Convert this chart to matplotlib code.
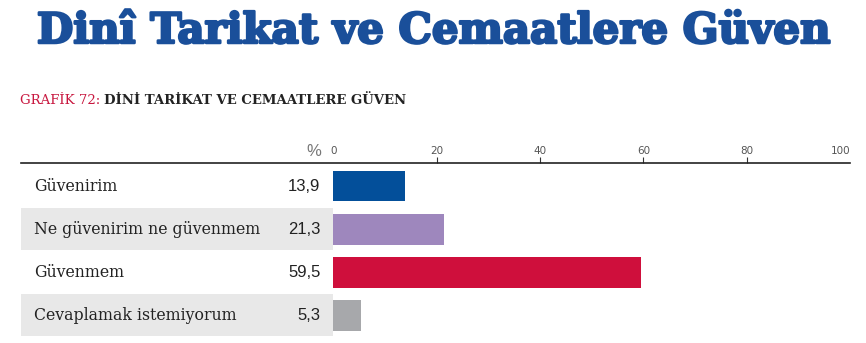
import matplotlib
matplotlib.use("Agg")
import matplotlib.pyplot as plt
import matplotlib.patheffects as pe

# data
categories = ["Güvenirim", "Ne güvenirim ne güvenmem", "Güvenmem", "Cevaplamak istemiyorum"]
values = [13.9, 21.3, 59.5, 5.3]
value_labels = ["13,9", "21,3", "59,5", "5,3"]
colors = ["#034f9a", "#9e87bd", "#cf0f3c", "#a7a8ab"]
ticks = [0, 20, 40, 60, 80, 100]

W, H = 866, 343
fig = plt.figure(figsize=(W / 100, H / 100), dpi=100)

# axes: px 21..850 horizontally, 163..343 vertically
ax = fig.add_axes([21 / W, 0, (850 - 21) / W, (343 - 163) / H])
ax.set_xlim(-60.5, 100)
ax.set_ylim(3.65, -0.535)

rows = list(range(len(categories)))

# grey bands behind alternate rows
for i in rows:
    if i % 2 == 1:
        ax.barh(i, 60.5, left=-60.5, height=0.97, color="#e8e8e8", zorder=0)

ax.barh(rows, values, height=0.72, color=colors, zorder=2)

for i in rows:
    ax.text(-58, i, categories[i], ha="left", va="center", fontsize=11.3,
            family="DejaVu Serif", color="#222222")
    ax.text(-2.5, i, value_labels[i], ha="right", va="center", fontsize=12,
            family="Liberation Sans", color="#222222")

ax.xaxis.tick_top()
ax.set_xticks(ticks)
ax.set_xticklabels([str(t) for t in ticks], fontsize=7.5, color="#555555")
ax.tick_params(axis="x", length=4, width=0.8, color="#333333", pad=1)
major = ax.xaxis.get_major_ticks()
major[0].tick2line.set_visible(False)
major[-1].tick2line.set_visible(False)
major[-1].label2.set_horizontalalignment("right")
ax.set_yticks([])
for s in ["left", "right", "bottom"]:
    ax.spines[s].set_visible(False)
ax.spines["top"].set_linewidth(1.2)
ax.spines["top"].set_color("#222222")

ax.text(-3.8, -0.62, "%", ha="center", va="bottom", fontsize=12, color="#777777",
        family="Liberation Sans")

# title (stroke to make it heavier)
fig.text(0.5, 1 - 31 / H, "Dinî Tarikat ve Cemaatlere Güven", ha="center", va="center",
         fontsize=30.2, fontweight="bold", family="DejaVu Serif", color="#1a4f9a",
         path_effects=[pe.withStroke(linewidth=1.8, foreground="#1a4f9a")])

# subtitle in two colours
t1 = fig.text(20 / W, 1 - 101 / H, "GRAFİK 72: ", ha="left", va="center", fontsize=9.5,
              family="DejaVu Serif", color="#c8173f")
fig.canvas.draw()
bb = t1.get_window_extent()
fig.text(bb.x1 / W, 1 - 101 / H, "DİNİ TARİKAT VE CEMAATLERE GÜVEN", ha="left", va="center",
         fontsize=9.5, family="DejaVu Serif", fontweight="semibold", color="#222222")

fig.savefig("out.png", dpi=100)
